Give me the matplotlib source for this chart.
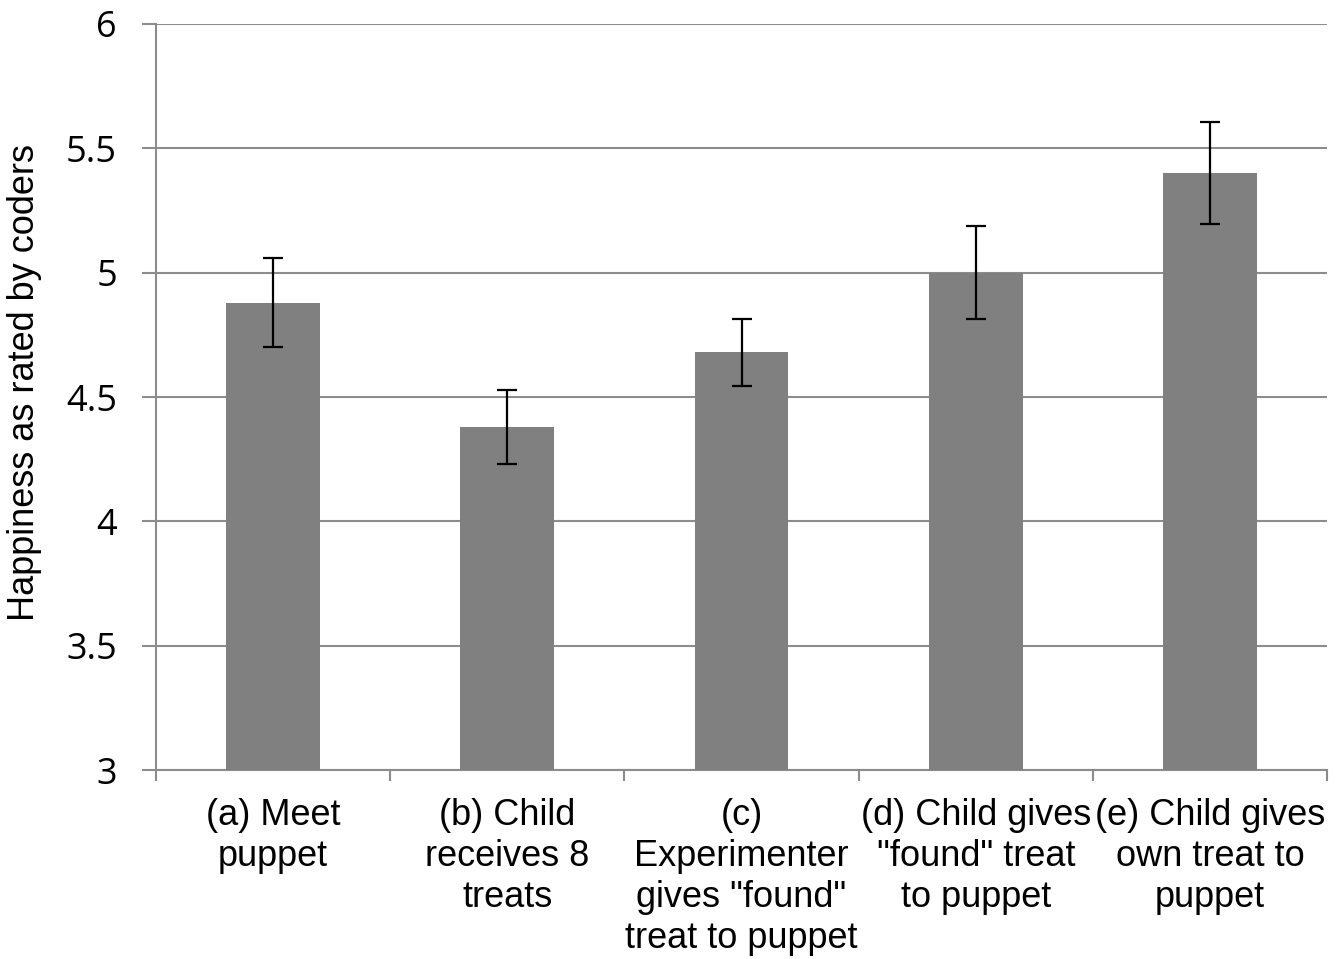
import numpy as np
import matplotlib
matplotlib.use("Agg")
import matplotlib.pyplot as plt

# Werte
categories = [
    "(a) Meet\npuppet",
    "(b) Child\nreceives 8\ntreats",
    "(c)\nExperimenter\ngives \"found\"\ntreat to puppet",
    "(d) Child gives\n\"found\" treat\nto puppet",
    "(e) Child gives\nown treat to\npuppet",
]
happiness = [4.88, 4.38, 4.68, 5.00, 5.40]
errors = [0.18, 0.15, 0.135, 0.187, 0.205]
y_ticks = [3, 3.5, 4, 4.5, 5, 5.5, 6]
y_ticklabels = ["3", "3.5", "4", "4.5", "5", "5.5", "6"]

grey = "#8c8c8c"

fig = plt.figure(figsize=(13.4, 9.59), dpi=100)
ax = fig.add_axes([0.1164, 0.197, 0.874, 0.778])

x = np.arange(len(categories))
ax.bar(x, [h - 3 for h in happiness], bottom=3, width=0.4, color="#808080", zorder=3)
ax.errorbar(x, happiness, yerr=errors, fmt="none", ecolor="black",
            elinewidth=1.6, capsize=7, capthick=1.6, zorder=4)

ax.set_ylim(3, 6)
ax.set_xlim(-0.5, len(categories) - 0.5)

ax.set_yticks(y_ticks)
ax.set_yticklabels(y_ticklabels, fontfamily="Open Sans", fontsize=26)
ax.yaxis.grid(True, color=grey, linewidth=1.5, zorder=0)
ax.tick_params(axis="y", length=10, width=1.5, color=grey, pad=18)

ax.set_xticks(x)
ax.set_xticklabels(categories, fontfamily="Liberation Sans", fontsize=26,
                   linespacing=1.22)
ax.set_xticks(np.arange(-0.5, len(categories)), minor=True)
ax.tick_params(axis="x", which="major", length=0, pad=20)
ax.tick_params(axis="x", which="minor", length=8, width=1.5, color=grey)

for side in ["top", "right"]:
    ax.spines[side].set_visible(False)
for side in ["left", "bottom"]:
    ax.spines[side].set_color(grey)
    ax.spines[side].set_linewidth(1.5)

ax.set_ylabel("Happiness as rated by coders", fontfamily="Liberation Sans",
              fontsize=26)
ax.yaxis.set_label_coords(-0.097, 0.52)

fig.savefig("out.png", dpi=100)
